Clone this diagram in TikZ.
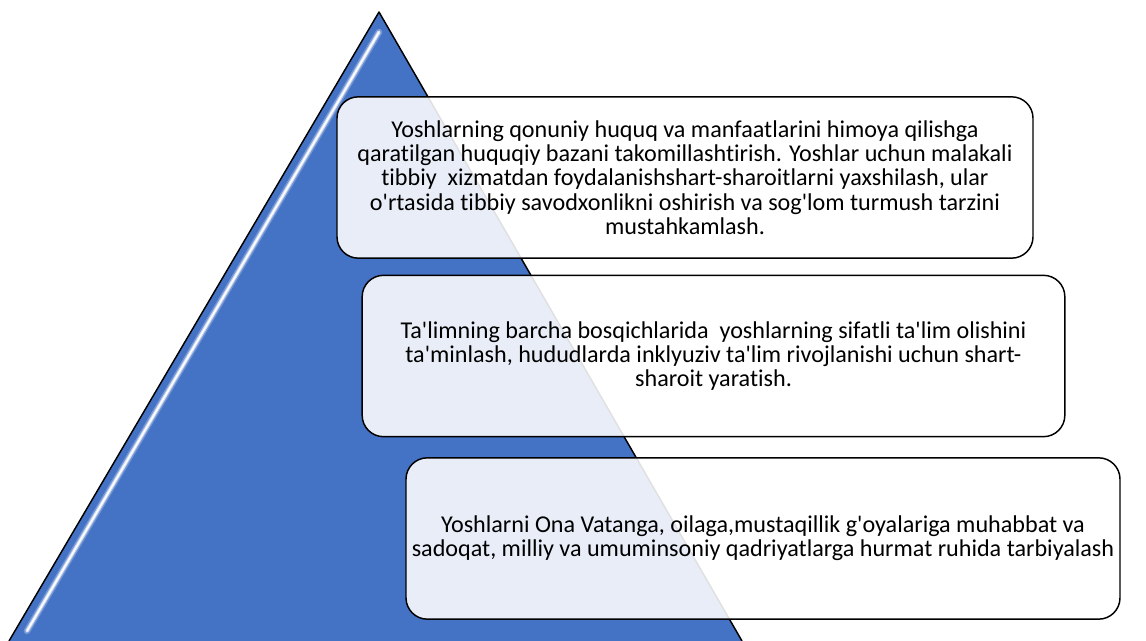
\documentclass[tikz,border=0pt]{standalone}
\usepackage{fontspec}
\setmainfont{Carlito}[Ligatures={TeXOff,CommonOff}]
\definecolor{pyrblue}{HTML}{4472C4}
\begin{document}
\begin{tikzpicture}[x=0.75pt,y=-0.75pt,
goal/.style={
	rectangle,minimum width=530pt,minimum height=121pt,rounded corners=16pt,
	draw=black,line width=1.1pt,
	fill=white,fill opacity=0.88,text opacity=1,
	align=center,font=\fontsize{18.1}{18.2}\selectfont},
rim/.style={draw=black,line width=1.1pt,line join=round}
]
\useasboundingbox (0,0) rectangle (1146,641);
% pyramid
\coordinate (apex) at (379,12);
\coordinate (bl) at (9,641);
\coordinate (br) at (742,641);
\coordinate (glowtop) at (379,32);
\coordinate (glowbot) at (27,631);
\fill[pyrblue] (apex) -- (br) -- (bl) -- cycle;
\draw[pyrblue!75!white,line width=5pt,line cap=round] (glowtop) -- (glowbot);
\draw[pyrblue!30!white,line width=2.8pt,line cap=round] (glowtop) -- (glowbot);
\draw[white,line width=1.2pt,line cap=round] (glowtop) -- (glowbot);
\draw[rim] (bl) -- (apex) -- (br);
% levels
\node[goal,minimum width=522pt] (law) at (685,177.5)
{Yoshlarning qonuniy huquq va manfaatlarini himoya qilishga\\
qaratilgan huquqiy bazani takomillashtirish. Yoshlar uchun malakali\\
tibbiy~ xizmatdan foydalanishshart-sharoitlarni yaxshilash, ular\\
o'rtasida tibbiy savodxonlikni oshirish va sog'lom turmush tarzini\\
mustahkamlash.};
\node[goal,minimum width=527pt] (edu) at (713.5,356)
{Ta'limning barcha bosqichlarida~ yoshlarning sifatli ta'lim olishini\\
ta'minlash, hududlarda inklyuziv ta'lim rivojlanishi uchun shart-\\
sharoit yaratish.};
\node[goal,minimum width=535.5pt] (home) at (763,538.5)
{Yoshlarni Ona Vatanga, oilaga,mustaqillik g'oyalariga muhabbat va\\
sadoqat, milliy va umuminsoniy qadriyatlarga hurmat ruhida tarbiyalash};
\end{tikzpicture}
\end{document}
